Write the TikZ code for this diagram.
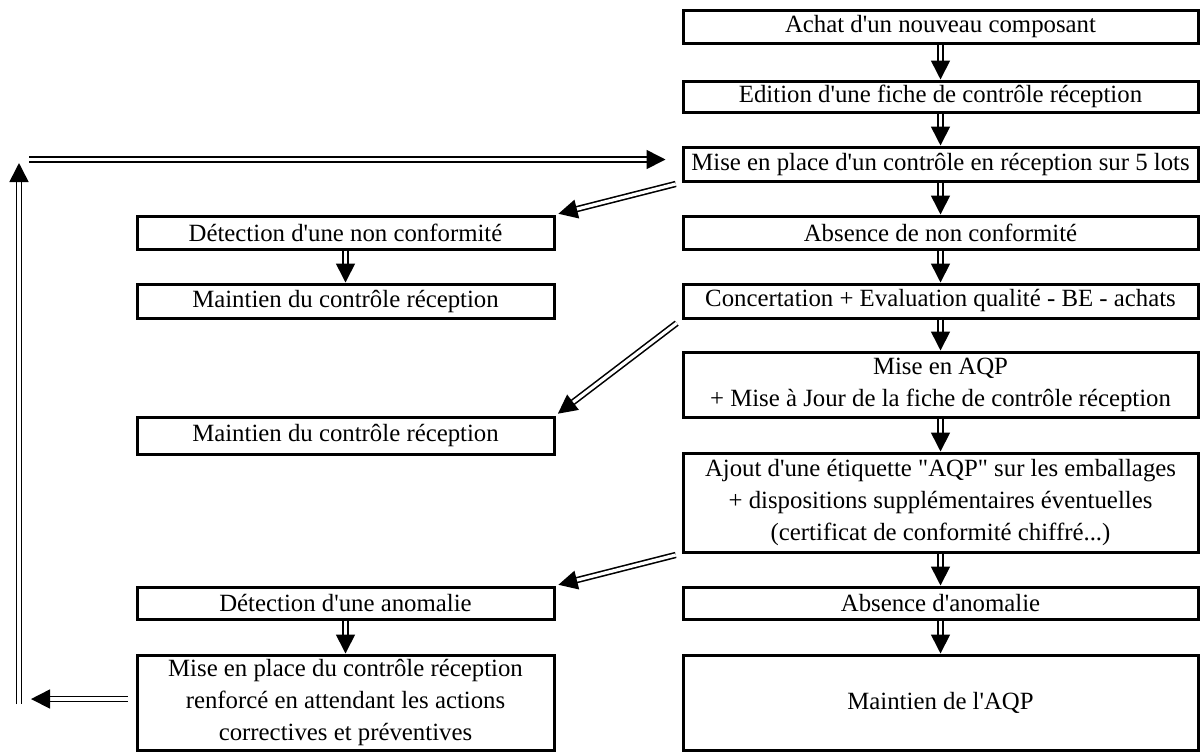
\documentclass[tikz,border=0pt]{standalone}
\usepackage{fontspec}
\setmainfont{Liberation Serif}
\usetikzlibrary{arrows.meta}
\newcommand{\q}{\textquotesingle}
\newcommand{\qq}{\textquotedbl}

\begin{document}
\begin{tikzpicture}[x=0.5pt, y=-0.5pt,
    box/.style = {draw, line width=1.5pt, inner sep=0pt, align=center, font=\fontsize{12.4pt}{16pt}\selectfont},
    rbox/.style = {box, minimum width=257.5pt},
    lbox/.style = {box, minimum width=208.5pt},
    dbl/.style = {double, double distance=1.6pt, line width=0.8pt, -{Triangle[length=9.5pt 0 0,width=9.5pt 0 0]}}]
    \useasboundingbox (0,0) rectangle (1202,752);
    \node[rbox, minimum height=16.5pt] (achat) at (940.5,26.5) {Achat d\q un nouveau composant};
    \node[rbox, minimum height=15.5pt] (edition) at (940.5,96.5) {Edition d\q une fiche de contrôle réception};
    \node[rbox, minimum height=17pt] (mise) at (940.5,164) {Mise en place d\q un contrôle en réception sur 5 lots};
    \node[rbox, minimum height=16.5pt] (absnc) at (940.5,232.5) {Absence de non conformité};
    \node[rbox, minimum height=17pt] (concert) at (940.5,301) {Concertation + Evaluation qualité - BE - achats};
    \node[rbox, minimum height=32.5pt] (aqp) at (940.5,384.5) {Mise en AQP\\+ Mise à Jour de la fiche de contrôle réception};
    \node[rbox, minimum height=49.5pt] (ajout) at (940.5,502.5) {Ajout d\q une étiquette \qq AQP\qq{} sur les emballages\\+ dispositions supplémentaires éventuelles\\(certificat de conformité chiffré...)};
    \node[rbox, minimum height=16pt] (absan) at (940.5,603) {Absence d\q anomalie};
    \node[rbox, minimum height=47.5pt] (maintaqp) at (940.5,702.5) {Maintien de l\q AQP};
    \node[lbox, minimum height=16.5pt] (detnc) at (345.5,232.5) {Détection d\q une non conformité};
    \node[lbox, minimum height=17pt] (maint1) at (345.5,301) {Maintien du contrôle réception};
    \node[lbox, minimum height=18.5pt] (maint2) at (345.5,435.5) {Maintien du contrôle réception};
    \node[lbox, minimum height=16pt] (detan) at (345.5,603) {Détection d\q une anomalie};
    \node[lbox, minimum height=47.5pt] (renf) at (345.5,702.5) {Mise en place du contrôle réception\\renforcé en attendant les actions\\correctives et préventives};
    \coordinate (loopbot) at (19,704);
    \coordinate (looptop) at (19,163);
    \coordinate (loopleft) at (29,159.5);
    \coordinate (loopin) at (31,699);
    \draw[dbl] (achat) -- (edition);
    \draw[dbl] (edition) -- (mise);
    \draw[dbl] (mise) -- (absnc);
    \draw[dbl] (absnc) -- (concert);
    \draw[dbl] (concert) -- (aqp);
    \draw[dbl] (aqp) -- (ajout);
    \draw[dbl] (ajout) -- (absan);
    \draw[dbl] (absan) -- (maintaqp);
    \draw[dbl] (detnc) -- (maint1);
    \draw[dbl] (detan) -- (renf);
    \draw[dbl, shorten <=3pt, shorten >=1.5pt] (mise.south west) -- (detnc.north east);
    \draw[dbl, shorten <=3pt, shorten >=1.5pt] (concert.south west) -- (maint2.north east);
    \draw[dbl, shorten <=3pt, shorten >=1.5pt] (ajout.south west) -- (detan.north east);
    \draw[dbl, shorten <=4pt] (loopin -| renf.west) -- (loopin);
    \draw[dbl] (loopbot) -- (looptop);
    \draw[dbl, shorten >=8pt] (loopleft) -- (loopleft -| mise.west);
\end{tikzpicture}
\end{document}
